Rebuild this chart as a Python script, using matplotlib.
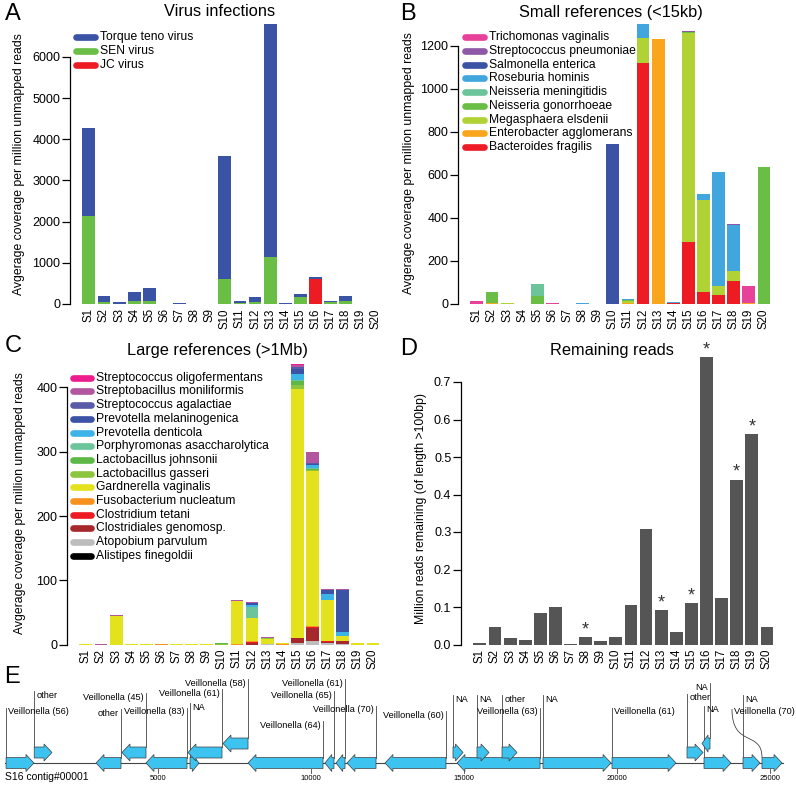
import numpy as np
import matplotlib.pyplot as plt
from matplotlib.lines import Line2D
from matplotlib.patches import Polygon, PathPatch
from matplotlib.path import Path

plt.rcParams['font.family'] = ['Liberation Sans', 'DejaVu Sans']

W, H = 796, 786

samples = ['S%d' % i for i in range(1, 21)]

# ---- A: virus infections (stack order bottom -> top)
jc_virus = [0, 0, 0, 0, 0, 0, 0, 0, 0, 0, 0, 0, 0, 0, 0, 605, 0, 0, 0, 0]
sen_virus = [2140, 40, 5, 65, 65, 0, 0, 0, 0, 615, 25, 50, 1150, 0, 160, 0, 40, 80, 0, 0]
torque_teno = [2130, 145, 35, 235, 330, 5, 15, 3, 3, 2990, 40, 112, 5650, 15, 75, 40, 40, 120, 5, 8]
virus_names = ['JC virus', 'SEN virus', 'Torque teno virus']
virus_colors = ['#ED1C24', '#6ABD45', '#3A53A4']

# ---- B: small references
b_fragilis = [0, 2, 0, 1, 0, 2, 0, 0, 0, 0, 2, 1121, 0, 3, 286, 57, 42, 107, 1, 0]
e_agglomerans = [0, 2, 0, 0, 0, 0, 0, 0, 0, 0, 3, 0, 1230, 2, 0, 0, 0, 0, 2, 0]
m_elsdenii = [0, 0, 4, 0, 0, 0, 0, 0, 0, 0, 7, 116, 0, 0, 973, 425, 43, 48, 0, 2]
n_gonorrhoeae = [0, 50, 1, 0, 35, 0, 0, 0, 0, 0, 5, 0, 0, 0, 3, 0, 0, 0, 0, 632]
n_meningitidis = [0, 0, 0, 0, 59, 0, 0, 1, 0, 0, 0, 0, 0, 0, 0, 0, 0, 0, 0, 0]
r_hominis = [0, 0, 0, 0, 0, 0, 0, 1.5, 0, 0, 5, 62, 0, 2, 2, 27, 526, 211, 0, 0]
s_enterica = [0, 0, 0, 0, 0, 0, 0, 0, 0, 742, 0, 0, 0, 0, 0, 0, 0, 0, 0, 0]
s_pneumoniae = [0, 0, 0, 0, 0, 0, 0, 0, 0, 0, 0, 0, 2, 0, 2, 0, 3, 4, 0, 0]
t_vaginalis = [15, 2, 0, 0, 0, 1, 1.5, 0, 2, 0, 0, 2, 0, 0, 3, 0, 0, 0, 81, 0]
small_names = ['Bacteroides fragilis', 'Enterobacter agglomerans', 'Megasphaera elsdenii',
               'Neisseria gonorrhoeae', 'Neisseria meningitidis', 'Roseburia hominis',
               'Salmonella enterica', 'Streptococcus pneumoniae', 'Trichomonas vaginalis']
small_colors = ['#ED1C24', '#F9A61C', '#B0D235', '#6ABD45', '#6CC49A', '#41A5DE',
                '#3A53A4', '#8E58A6', '#E8419A']

# ---- C: large references
a_finegoldii = [0] * 20
a_parvulum = [0, 0, 0, 0, 0, 0, 0, 0, 0, 0, 0, 0, 0.5, 0, 2.5, 5, 2.5, 1, 0, 0]
c_genomosp = [0, 0, 0, 0, 0, 0, 0, 0, 0, 0, 0, 2.5, 0, 0, 7, 21, 2, 4, 0, 0]
c_tetani = [0, 0, 0, 0, 0, 0, 0, 0, 0, 0, 0, 1, 0, 0, 1, 1, 0.5, 0, 0, 0]
f_nucleatum = [0, 0, 0, 0, 0, 0.5, 0, 0, 0, 0, 1, 1.5, 0, 1, 0.5, 1.5, 0.5, 0, 0, 0]
g_vaginalis = [1, 0, 45, 0.3, 0.3, 0.5, 0.2, 0.3, 1, 0, 67, 36, 8, 1, 386, 241, 64.5, 8.5, 2.5, 2]
l_gasseri = [0, 0, 0, 0, 0, 0, 0, 0, 0, 0.5, 0, 0, 1.5, 0, 6, 2, 0, 0, 0, 0]
l_johnsonii = [0, 0, 0, 0, 0, 0, 0, 0, 0, 2.5, 0, 0, 0, 0, 7, 1, 0, 0, 0, 0]
p_asaccharolytica = [0, 0, 0, 0, 0, 0, 0, 0, 0, 0, 0, 17, 1, 0, 2, 2, 0, 0, 0, 0]
p_denticola = [0, 0, 0, 0, 0, 0, 0, 0, 0, 0, 0, 3, 0, 0, 9, 5, 8, 6.5, 0, 0]
p_melaninogenica = [0, 0, 0, 0, 0, 0, 0, 0, 0, 0, 0, 3, 0, 0, 8, 1, 7.5, 65.5, 0, 0]
s_agalactiae = [0, 0, 0, 0, 0, 0, 0, 0, 0, 0, 0, 0, 0, 0, 2, 2, 0, 0, 0, 0]
s_moniliformis = [0.5, 1.5, 0.5, 0.2, 0.2, 0.3, 0.1, 0.2, 0, 0, 1.5, 2, 0.5, 0.5, 4, 17, 0.5, 0.5, 0, 0]
s_oligofermentans = [0, 0, 0, 0, 0, 0, 0, 0, 0, 0, 0, 0, 0, 0, 1, 0, 0, 0, 0, 0]
large_names = ['Alistipes finegoldii', 'Atopobium parvulum', 'Clostridiales genomosp.',
               'Clostridium tetani', 'Fusobacterium nucleatum', 'Gardnerella vaginalis',
               'Lactobacillus gasseri', 'Lactobacillus johnsonii', 'Porphyromonas asaccharolytica',
               'Prevotella denticola', 'Prevotella melaninogenica', 'Streptococcus agalactiae',
               'Streptobacillus moniliformis', 'Streptococcus oligofermentans']
large_colors = ['#000000', '#BDBDBD', '#A6282C', '#ED1C24', '#F7921E', '#E3E21C',
                '#8CC63F', '#5DB845', '#6CC49A', '#3DB4E8', '#3A53A4', '#5A5BA8',
                '#B256A0', '#EC1C8C']

# ---- D: remaining reads (million)
remaining = [0.004, 0.046, 0.017, 0.013, 0.083, 0.099, 0.002, 0.02, 0.01, 0.019,
             0.105, 0.309, 0.092, 0.033, 0.11, 0.766, 0.123, 0.44, 0.561, 0.048]
starred = ['S8', 'S13', 'S15', 'S16', 'S18', 'S19']

# ---- E: S16 contig genes (bp)
gene_start = [30, 950, 2970, 3818, 4602, 6040, 5974, 7118, 7935, 10450, 10810, 11169,
              12410, 14632, 14763, 15416, 16233, 17572, 19827, 22277, 22767, 22833, 24107, 24727]
gene_end = [940, 1530, 3785, 4602, 5942, 6334, 7085, 7935, 10385, 10744, 11104, 12117,
            14403, 14959, 17475, 15808, 16723, 19794, 21918, 22800, 23029, 23715, 24662, 25381]
gene_strand = [1, 1, -1, -1, -1, 1, -1, -1, -1, -1, -1, -1,
               -1, 1, -1, 1, 1, 1, 1, 1, -1, 1, 1, 1]
gene_label = ['Veillonella (56)', 'other', 'other', 'Veillonella (45)', 'Veillonella (83)', 'NA',
              'Veillonella (61)', 'Veillonella (58)', 'Veillonella (64)', 'Veillonella (65)',
              'Veillonella (61)', 'Veillonella (70)', 'Veillonella (60)', 'NA', 'Veillonella (63)',
              'NA', 'other', 'NA', 'Veillonella (61)', 'other', 'NA', 'NA', 'NA', 'Veillonella (70)']
contig_len = 25420
contig_ticks = [5000, 10000, 15000, 20000, 25000]

# layout of panel E (pixel rows)
gene_row = [0, 1, 0, 1, 0, 0, 1, 2, 0, 0, 0, 0, 0, 1, 0, 1, 1, 0, 0, 1, 2, 0, 0, 0]
label_y = [712, 695, 713, 697, 712, 707, 693, 683, 725, 695, 683, 710,
           715, 699, 712, 699, 699, 699, 712, 698, 687, 710, 699, 712]
row_y = {0: 763, 1: 752.5, 2: 743.5}


def px(x, y):
    return x / W, 1 - y / H


fig = plt.figure(figsize=(W / 100, H / 100), dpi=100)


def make_ax(left, top, bottom, width=315):
    return fig.add_axes([left / W, 1 - bottom / H, width / W, (bottom - top) / H])


def style_ax(ax, ymax_tick, yticks, ylabel, lab_x, lab_y=0.5):
    for s in ['top', 'right', 'bottom']:
        ax.spines[s].set_visible(False)
    ax.spines['left'].set_bounds(0, ymax_tick)
    ax.spines['left'].set_linewidth(0.9)
    ax.set_yticks(yticks)
    ax.tick_params(axis='y', direction='out', length=5.5, width=0.9, pad=1.5, labelsize=9)
    ax.set_xticks(range(20))
    ax.set_xticklabels(samples, rotation=90, fontsize=8.3)
    ax.tick_params(axis='x', length=0, pad=3)
    ax.set_xlim(-1.25, 19.6)
    ax.set_ylabel(ylabel, fontsize=8.8)
    ax.yaxis.set_label_coords(lab_x, lab_y)


def legend(names, colors, x0, x1, y0, dy, tx):
    for i, (n, c) in enumerate(zip(names, colors)):
        y = y0 + i * dy
        fig.add_artist(Line2D([(x0 + 3) / W, (x1 - 3) / W], [1 - y / H] * 2, lw=4.8,
                              color=c, solid_capstyle='round'))
        fig.text(*px(tx, y), n, fontsize=8.7, va='center', ha='left')


xs = np.arange(20)
bw = 0.85
ylab = 'Avgerage coverage per million unmapped reads'

# ---- panel A
axA = make_ax(70, 24, 304)
bottom = np.zeros(20)
for vals, c in zip([jc_virus, sen_virus, torque_teno], virus_colors):
    axA.bar(xs, vals, bw, bottom=bottom, color=c, linewidth=0)
    bottom += np.array(vals)
axA.set_ylim(0, 6800)
style_ax(axA, 6000, range(0, 7000, 1000), ylab, -0.143)
legend(virus_names[::-1], virus_colors[::-1], 73, 98, 37, 14, 100)

# ---- panel B
axB = make_ax(458, 23, 304)
bottom = np.zeros(20)
small = [b_fragilis, e_agglomerans, m_elsdenii, n_gonorrhoeae, n_meningitidis,
         r_hominis, s_enterica, s_pneumoniae, t_vaginalis]
for vals, c in zip(small, small_colors):
    axB.bar(xs, vals, bw, bottom=bottom, color=c, linewidth=0)
    bottom += np.array(vals)
axB.set_ylim(0, 1305)
style_ax(axB, 1200, range(0, 1400, 200), ylab, -0.137)
legend(small_names[::-1], small_colors[::-1], 462, 487, 37, 13.75, 489)

# ---- panel C
axC = make_ax(67, 361.7, 644.6)
bottom = np.zeros(20)
large = [a_finegoldii, a_parvulum, c_genomosp, c_tetani, f_nucleatum, g_vaginalis,
         l_gasseri, l_johnsonii, p_asaccharolytica, p_denticola, p_melaninogenica,
         s_agalactiae, s_moniliformis, s_oligofermentans]
for vals, c in zip(large, large_colors):
    axC.bar(xs, vals, bw, bottom=bottom, color=c, linewidth=0)
    bottom += np.array(vals)
axC.set_ylim(0, 440)
style_ax(axC, 400, range(0, 500, 100), ylab, -0.13)
legend(large_names[::-1], large_colors[::-1], 70, 94, 377.7, 13.7, 96)

# ---- panel D
axD = make_ax(461, 355.75, 644.5)
axD.bar(xs, remaining, bw, color='#555555', linewidth=0)
axD.set_ylim(0, 0.77)
style_ax(axD, 0.7, np.arange(0, 0.75, 0.1), 'Million reads remaining (of length >100bp)', -0.108, 0.47)
axD.set_yticklabels(['%.1f' % v for v in np.arange(0, 0.75, 0.1)])
for s in starred:
    i = samples.index(s)
    axD.annotate('*', (i, remaining[i]), xytext=(0, -1), textcoords='offset points',
                 ha='center', va='bottom', fontsize=13, color='#333333')

# ---- titles and panel letters
for t, x, y in [('Virus infections', 220, 12), ('Small references (<15kb)', 611, 13),
                ('Large references (>1Mb)', 217, 350), ('Remaining reads', 612, 350)]:
    fig.text(*px(x, y), t, fontsize=11.8, ha='center', va='center')
for t, x, y in [('A', 5, 14), ('B', 400, 14), ('C', 5, 346), ('D', 400, 349), ('E', 4, 677)]:
    fig.text(*px(x, y), t, fontsize=17, ha='left', va='center')

# ---- panel E: gene map
axE = fig.add_axes([0, 0, 1, 121 / H])
scale = 0.030608
off = 5.14
axE.set_xlim((0 - off) / scale, (W - off) / scale)
axE.set_ylim(786, 665)
axE.axis('off')

axE.plot([0, contig_len], [763, 763], color='#444444', lw=0.8, zorder=1)
body, head = 11, 17
hl_bp = 260
for k in range(len(gene_start)):
    s, e, st = gene_start[k], gene_end[k], gene_strand[k]
    yc = row_y[gene_row[k]]
    hl = min(hl_bp, 0.75 * (e - s))
    if st > 0:
        tail, tip, neck = s, e, e - hl
    else:
        tail, tip, neck = e, s, s + hl
    pts = [(tail, yc - body / 2), (neck, yc - body / 2), (neck, yc - head / 2), (tip, yc),
           (neck, yc + head / 2), (neck, yc + body / 2), (tail, yc + body / 2)]
    axE.add_patch(Polygon(pts, closed=True, fc='#3CC3F0', ec='#3d3d3d', lw=0.5, zorder=3))

    ly = label_y[k]
    gap = 70
    if k == len(gene_start) - 1:
        # curved leader line for the last gene
        ax0 = (732 - off) / scale
        path = Path([(ax0, ly - 3), (ax0, 748), (tail, 730), (tail, yc - body / 2)],
                    [Path.MOVETO, Path.CURVE4, Path.CURVE4, Path.CURVE4])
        axE.add_patch(PathPatch(path, fc='none', ec='#444444', lw=0.6, zorder=2))
        axE.text(ax0 + gap, ly, gene_label[k], fontsize=6.6, ha='left', va='center')
        continue
    axE.plot([tail, tail], [yc - body / 2, ly - 4], color='#444444', lw=0.6, zorder=2)
    if st > 0:
        axE.text(tail + gap, ly, gene_label[k], fontsize=6.6, ha='left', va='center')
    else:
        axE.text(tail - gap, ly, gene_label[k], fontsize=6.6, ha='right', va='center')

for t in contig_ticks:
    axE.plot([t, t], [769, 773], color='#444444', lw=0.6)
    axE.text(t, 779, str(t), fontsize=5.5, ha='center', va='center')
fig.text(*px(5, 777), 'S16 contig#00001', fontsize=7.5, ha='left', va='center')

fig.savefig('out.png', dpi=100)
